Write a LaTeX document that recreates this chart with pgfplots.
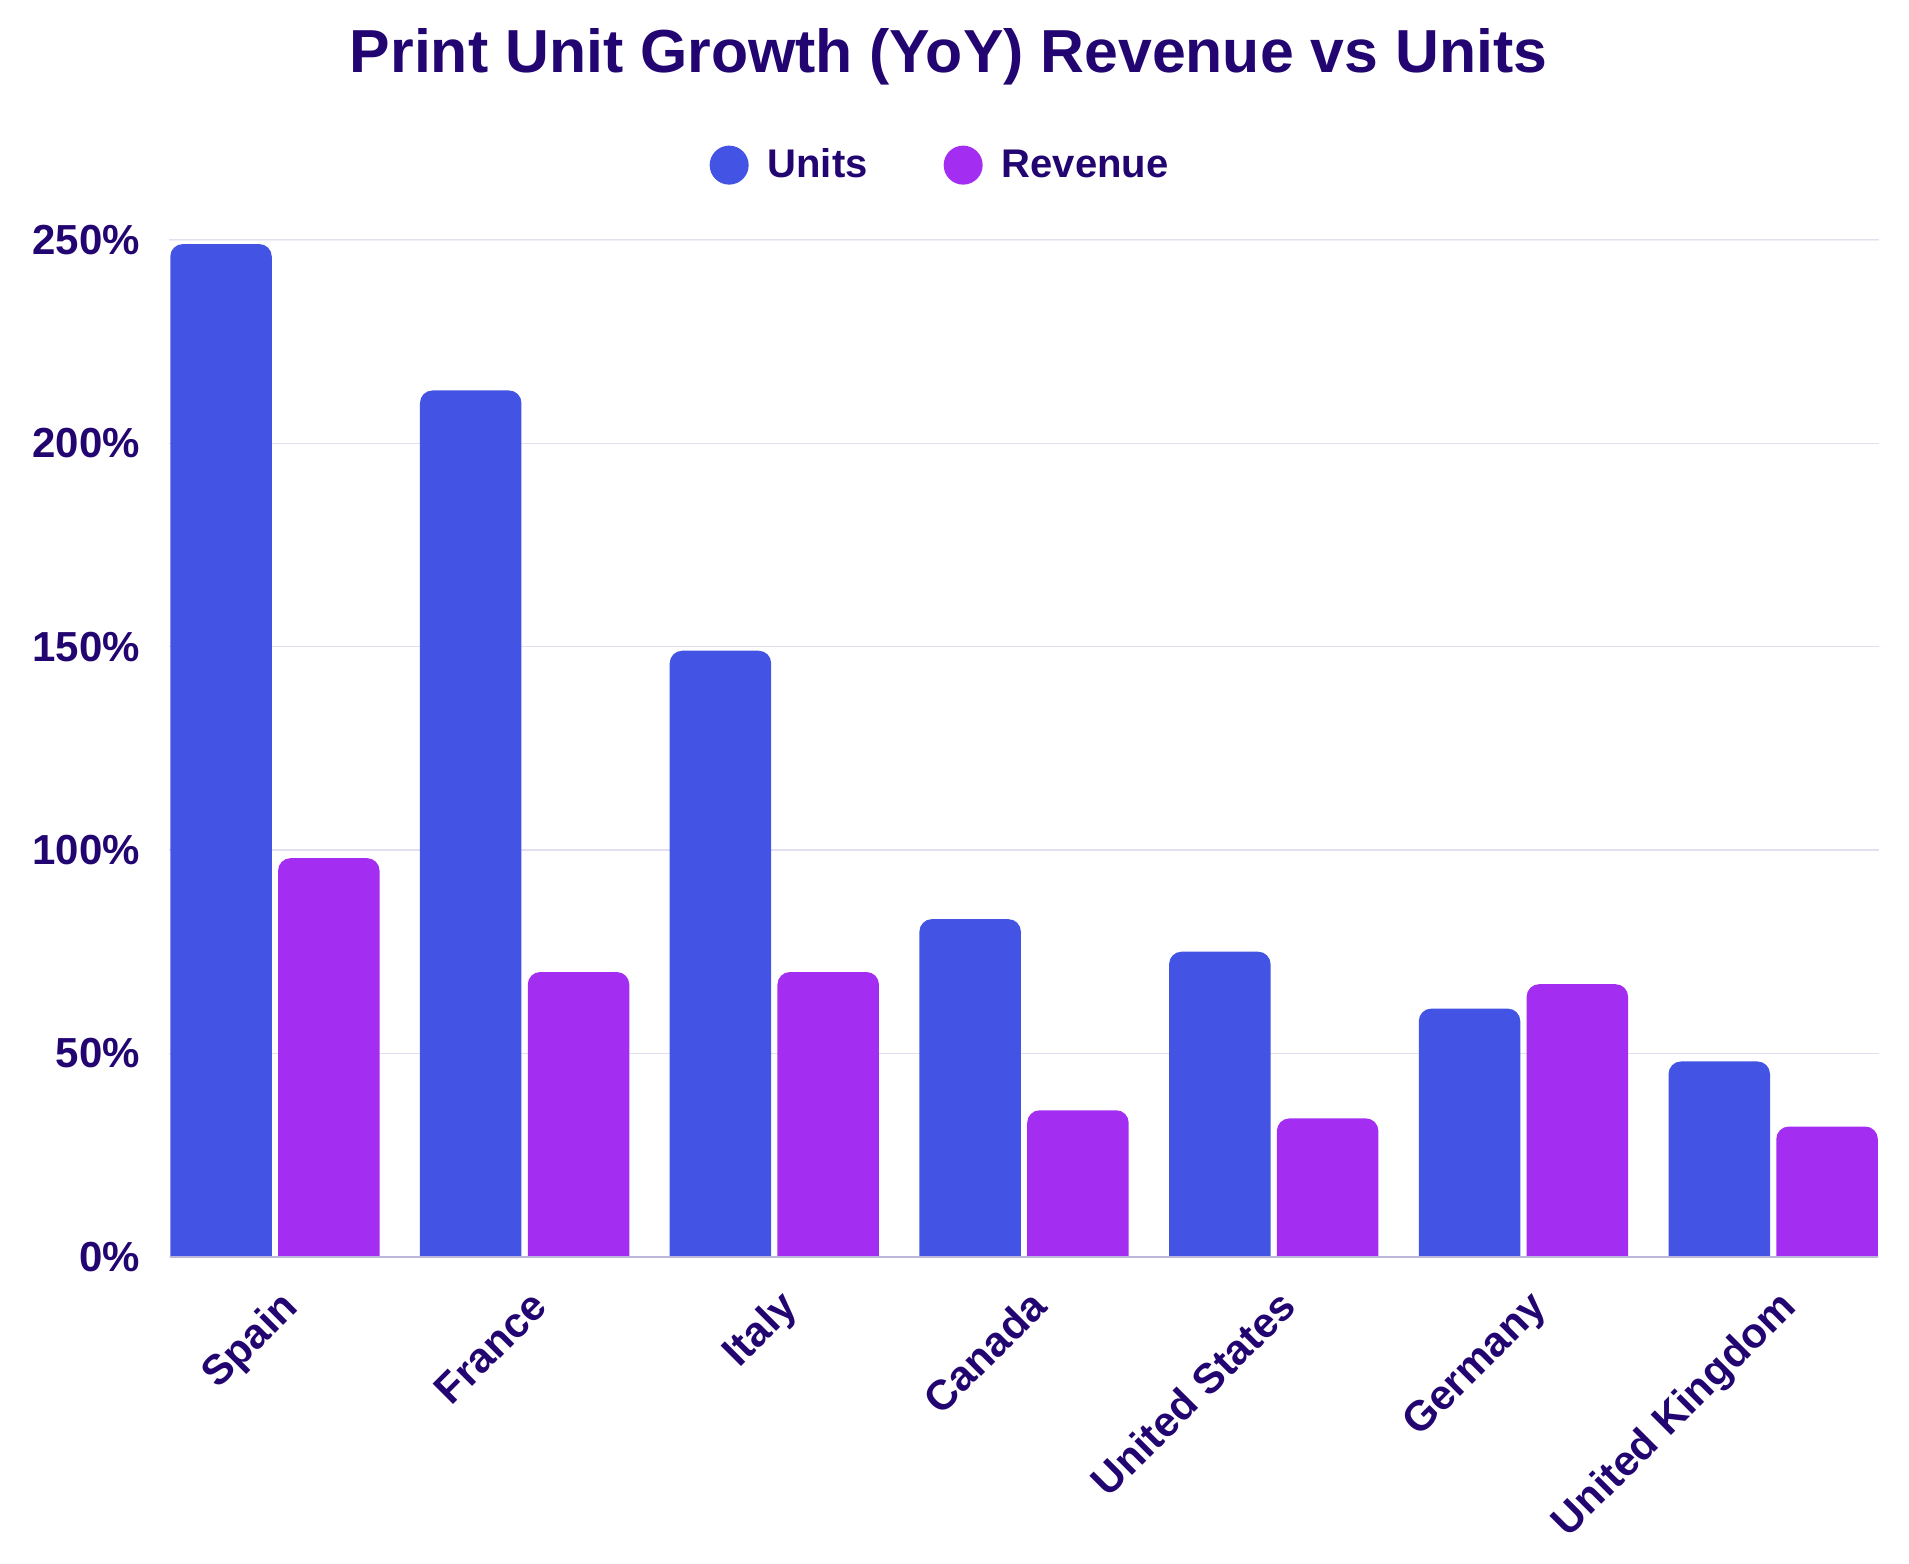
\documentclass[border=0pt]{standalone}
\usepackage{fontspec}
\setmainfont{Liberation Sans}
\usepackage{pgfplots}
\pgfplotsset{compat=1.18}

\definecolor{unitsblue}{RGB}{67,83,228}
\definecolor{revpurple}{RGB}{163,46,241}
\definecolor{ink}{RGB}{35,5,113}
\definecolor{gridc}{RGB}{226,224,240}
\definecolor{gridtop}{RGB}{241,240,248}
\definecolor{basec}{RGB}{190,182,218}

\begin{document}
\begin{tikzpicture}
\useasboundingbox (0pt,0pt) rectangle (763.6pt,625.6pt);
\node[anchor=base, inner sep=0pt, text=ink,
      font=\bfseries\fontsize{24.3}{29}\selectfont]
  at (379.4pt,596.5pt) {Print Unit Growth (YoY) Revenue vs Units};
\begin{axis}[
  at={(67.52pt,114.79pt)}, anchor=south west,
  scale only axis, width=684.2pt, height=414.8pt,
  ybar, bar width=40.6pt,
  % values are lifted by 5: the strip below the 0% line hides the bars' lower corners
  y filter/.expression={y+5},
  xmin=-0.425, xmax=6.425,
  ymin=0, ymax=255,
  axis line style={draw=none},
  major tick length=0pt,
  ymajorgrids, grid style={gridc, line width=0.6pt},
  ytick={5,55,105,155,205,255},
  yticklabels={0\%,50\%,100\%,150\%,200\%,250\%},
  xtick={0,...,6},
  xticklabels={Spain,France,Italy,Canada,United States,Germany,United Kingdom},
  yticklabel style={font=\bfseries\fontsize{16.8}{20}\selectfont, text=ink,
    inner sep=0pt, anchor=east, xshift=-11.4pt},
  xticklabel style={font=\bfseries\fontsize{16.8}{20}\selectfont, text=ink,
    inner sep=0pt, xshift=10pt, yshift=-12.7pt, rotate=45, anchor=base east},
  legend columns=-1,
  legend style={
    at={(0.4503,1.0722)}, anchor=center,
    draw=none, fill=none, inner sep=0pt,
    font=\bfseries\fontsize{16}{19}\selectfont, text=ink,
    nodes={inner sep=0pt},
    /tikz/every odd column/.append style={column sep=7.6pt},
    /tikz/every even column/.append style={column sep=30.4pt},
  },
]
\draw[gridtop, line width=0.8pt] (axis cs:-0.425,255) -- (axis cs:6.425,255);

\addplot[fill=unitsblue, draw=none, rounded corners=5pt, bar shift=-21.56pt,
  legend image code/.code={\fill[unitsblue] (7.8pt,0pt) circle (7.8pt);}]
  coordinates {(0,249) (1,213) (2,149) (3,83) (4,75) (5,61) (6,48)};
\addlegendentry{Units}

\addplot[fill=revpurple, draw=none, rounded corners=5pt, bar shift=21.56pt,
  legend image code/.code={\fill[revpurple] (7.8pt,0pt) circle (7.8pt);}]
  coordinates {(0,98) (1,70) (2,70) (3,36) (4,34) (5,67) (6,32)};
\addlegendentry{Revenue}

% blank strip under the 0% line, then the baseline itself
\fill[white] (axis cs:-0.5,-1) rectangle (axis cs:6.5,5);
\draw[basec, line width=0.9pt] (axis cs:-0.4191,5) -- (axis cs:6.4191,5);
\end{axis}
\end{tikzpicture}
\end{document}
